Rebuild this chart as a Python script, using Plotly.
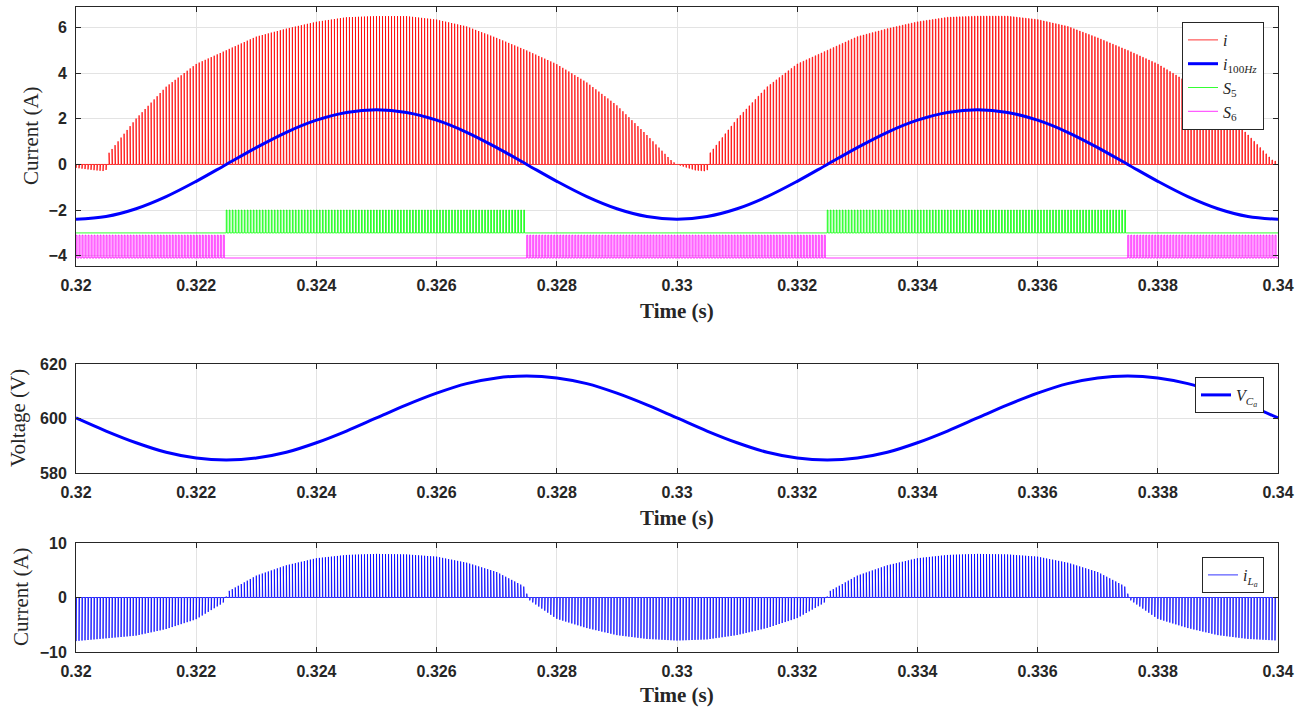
import numpy as np
import plotly.graph_objects as go

W, H = 1309, 709

# ---------------- data ----------------
x_ticks = [0.32, 0.322, 0.324, 0.326, 0.328, 0.33, 0.332, 0.334, 0.336, 0.338, 0.34]
x_ticklabels = ["0.32", "0.322", "0.324", "0.326", "0.328", "0.33", "0.332", "0.334", "0.336", "0.338", "0.34"]

# switching period of the PWM traces (about 20 kHz)
t_sw = 5e-5

# envelope of the switched current i (A)
i_env_t = [0.3200, 0.3203, 0.3205, 0.32055, 0.3210, 0.3215, 0.3220, 0.3225, 0.3230, 0.3235, 0.3240,
           0.3245, 0.3250, 0.3255, 0.3260, 0.3265, 0.3270, 0.3275, 0.3280, 0.3285, 0.3290, 0.3295,
           0.3299, 0.3300, 0.3303, 0.3305, 0.33055, 0.3310, 0.3315, 0.3320, 0.3325, 0.3330, 0.3335,
           0.3340, 0.3345, 0.3350, 0.3355, 0.3360, 0.3365, 0.3370, 0.3375, 0.3380, 0.3385, 0.3390,
           0.3395, 0.3399, 0.3400]
i_env_v = [-0.15, -0.25, -0.3, 0.5, 2.0, 3.4, 4.4, 5.0, 5.6, 5.95, 6.25,
           6.45, 6.5, 6.5, 6.35, 6.05, 5.55, 5.0, 4.4, 3.6, 2.6, 1.3,
           0.2, 0.0, -0.25, -0.3, 0.5, 2.0, 3.4, 4.4, 5.0, 5.6, 5.95,
           6.25, 6.45, 6.5, 6.5, 6.35, 6.05, 5.55, 5.0, 4.4, 3.6, 2.6,
           1.3, 0.2, 0.1]

# 100 Hz component of the current (A)
t_smooth = [0.3200, 0.3205, 0.3210, 0.3215, 0.3220, 0.3225, 0.3230, 0.3235, 0.3240, 0.3245, 0.3250,
            0.3255, 0.3260, 0.3265, 0.3270, 0.3275, 0.3280, 0.3285, 0.3290, 0.3295, 0.3300,
            0.3305, 0.3310, 0.3315, 0.3320, 0.3325, 0.3330, 0.3335, 0.3340, 0.3345, 0.3350,
            0.3355, 0.3360, 0.3365, 0.3370, 0.3375, 0.3380, 0.3385, 0.3390, 0.3395, 0.3400]
i100 = [-2.40, -2.28, -1.94, -1.41, -0.74, 0.00, 0.74, 1.41, 1.94, 2.28, 2.40,
        2.28, 1.94, 1.41, 0.74, 0.00, -0.74, -1.41, -1.94, -2.28, -2.40,
        -2.28, -1.94, -1.41, -0.74, 0.00, 0.74, 1.41, 1.94, 2.28, 2.40,
        2.28, 1.94, 1.41, 0.74, 0.00, -0.74, -1.41, -1.94, -2.28, -2.40]

# capacitor voltage (V)
v_ca = [600.2, 595.4, 591.1, 587.6, 585.5, 584.8, 585.5, 587.6, 591.1, 595.4, 600.2,
        605.0, 609.3, 612.8, 614.9, 615.6, 614.9, 612.8, 609.3, 605.0, 600.2,
        595.4, 591.1, 587.6, 585.5, 584.8, 585.5, 587.6, 591.1, 595.4, 600.2,
        605.0, 609.3, 612.8, 614.9, 615.6, 614.9, 612.8, 609.3, 605.0, 600.2]

# gate signals: levels and conduction intervals
s5_low, s5_high = -3.0, -2.0
s6_low, s6_high = -4.1, -3.1
s5_on = [(0.3225, 0.3275), (0.3325, 0.3375)]
s6_on = [(0.3200, 0.3225), (0.3275, 0.3325), (0.3375, 0.3400)]

# envelope of the inductor current i_La (A)
il_env_t = [0.3200, 0.3205, 0.3210, 0.3215, 0.3220, 0.32245, 0.32255, 0.3230, 0.3235, 0.3240, 0.3245,
            0.3250, 0.3255, 0.3260, 0.3265, 0.3270, 0.32745, 0.32755, 0.3280, 0.3285, 0.3290,
            0.3295, 0.3300, 0.3305, 0.3310, 0.3315, 0.3320, 0.33245, 0.33255, 0.3330, 0.3335,
            0.3340, 0.3345, 0.3350, 0.3355, 0.3360, 0.3365, 0.3370, 0.33745, 0.33755, 0.3380,
            0.3385, 0.3390, 0.3395, 0.3400]
il_env_v = [-8.0, -7.5, -7.0, -5.8, -4.0, -1.0, 1.2, 4.0, 5.9, 7.2, 7.8,
            8.0, 7.9, 7.5, 6.4, 4.7, 2.1, -0.5, -3.9, -5.6, -6.9,
            -7.6, -7.9, -7.7, -6.9, -5.6, -3.8, -1.0, 1.2, 4.0, 5.9,
            7.2, 7.8, 8.0, 7.9, 7.5, 6.4, 4.7, 2.1, -0.5, -3.9,
            -5.6, -6.9, -7.6, -7.9]

# ---------------- helpers ----------------
def pulse_train(heights_fn, base, duty, t0=0.32, t1=0.34):
    starts = np.arange(t0, t1 - 1e-9, t_sw)
    mids = starts + duty * t_sw / 2
    h = heights_fn(mids)
    n = len(starts)
    x = np.empty(4 * n)
    y = np.empty(4 * n)
    x[0::4] = starts
    x[1::4] = starts
    x[2::4] = starts + duty * t_sw
    x[3::4] = starts + duty * t_sw
    y[0::4] = base
    y[1::4] = h
    y[2::4] = h
    y[3::4] = base
    x = np.append(x, t1)
    y = np.append(y, base)
    return x, y


def gate_heights(intervals, low, high):
    def f(t):
        out = np.full_like(t, low)
        for a, b in intervals:
            out[(t >= a) & (t < b)] = high
        return out
    return f


ix, iy = pulse_train(lambda t: np.interp(t, i_env_t, i_env_v), 0.0, 0.15)
s5x, s5y = pulse_train(gate_heights(s5_on, s5_low, s5_high), s5_low, 0.25)
s6x, s6y = pulse_train(gate_heights(s6_on, s6_low, s6_high), s6_low, 0.35)
lx, ly = pulse_train(lambda t: np.interp(t, il_env_t, il_env_v), 0.0, 0.15)

# ---------------- figure ----------------
fig = go.Figure()

fig.add_trace(go.Scatter(x=ix, y=iy, mode="lines", line=dict(color="#ff0000", width=0.8),
                         name="<i>i</i>", legend="legend", xaxis="x", yaxis="y"))
fig.add_trace(go.Scatter(x=t_smooth, y=i100, mode="lines", line=dict(color="#0000ff", width=3, shape="spline"),
                         name="<i>i</i><sub>100<i>Hz</i></sub>", legend="legend", xaxis="x", yaxis="y"))
fig.add_trace(go.Scatter(x=s5x, y=s5y, mode="lines", line=dict(color="#00ff00", width=0.8),
                         name="<i>S</i><sub>5</sub>", legend="legend", xaxis="x", yaxis="y"))
fig.add_trace(go.Scatter(x=s6x, y=s6y, mode="lines", line=dict(color="#ff00ff", width=0.8),
                         name="<i>S</i><sub>6</sub>", legend="legend", xaxis="x", yaxis="y"))

fig.add_trace(go.Scatter(x=t_smooth, y=v_ca, mode="lines", line=dict(color="#0000ff", width=3, shape="spline"),
                         name="<i>V</i><sub><i>C<sub>a</sub></i></sub>", legend="legend2", xaxis="x2", yaxis="y2"))

fig.add_trace(go.Scatter(x=lx, y=ly, mode="lines", line=dict(color="#0000ff", width=0.8),
                         name="<i>i</i><sub><i>L<sub>a</sub></i></sub>", legend="legend3", xaxis="x3", yaxis="y3"))

# plot area in pixels: x 76..1278, y 7..652
L, R, T, B = 76, 1278, 7, 652
PW, PH = R - L, B - T

def px(x):
    return (x - L) / PW

def py(y):
    return (B - y) / PH

def ydom(top_px, bot_px):
    return [py(bot_px), py(top_px)]

tick_font = dict(family="Liberation Sans, Arial", size=16, color="#262626", weight="bold")
axis_common = dict(showline=True, linecolor="#262626", linewidth=1, mirror="ticks",
                   ticks="inside", ticklen=5, tickcolor="#262626", showgrid=True,
                   gridcolor="#e3e3e3", gridwidth=1, zeroline=False, tickfont=tick_font,
                   automargin=False)

xax = dict(axis_common, range=[0.32, 0.34], tickvals=x_ticks, ticktext=x_ticklabels,
           domain=[0, 1], ticklabelstandoff=5)

fig.update_layout(
    width=W, height=H,
    margin=dict(l=L, r=W - R, t=T, b=H - B, autoexpand=False),
    paper_bgcolor="white", plot_bgcolor="white",
    xaxis=dict(xax, anchor="y"),
    yaxis=dict(axis_common, range=[-4.45, 6.9], tickvals=[-4, -2, 0, 2, 4, 6],
               domain=ydom(7, 266), anchor="x", ticklabelstandoff=5),
    xaxis2=dict(xax, anchor="y2"),
    yaxis2=dict(axis_common, range=[580, 620], tickvals=[580, 600, 620],
                domain=ydom(364, 473), anchor="x2", ticklabelstandoff=5),
    xaxis3=dict(xax, anchor="y3"),
    yaxis3=dict(axis_common, range=[-10, 10], tickvals=[-10, 0, 10],
                domain=ydom(543, 652), anchor="x3", ticklabelstandoff=5),
    showlegend=True,
)

leg_common = dict(bgcolor="white", bordercolor="#262626", borderwidth=1,
                  font=dict(family="Liberation Serif, Times New Roman", size=16, color="#262626"),
                  xanchor="right", yanchor="top", itemwidth=30, tracegroupgap=0)
fig.update_layout(
    legend=dict(leg_common, x=px(1264), y=py(22)),
    legend2=dict(leg_common, x=px(1264), y=py(377)),
    legend3=dict(leg_common, x=px(1264), y=py(557)),
)

title_font_x = dict(family="Liberation Serif, Times New Roman", size=21, color="#262626", weight="bold")
title_font_y = dict(family="Liberation Serif, Times New Roman", size=21, color="#262626")
ann = []
for yc in [311, 518, 695]:
    ann.append(dict(text="Time (s)", x=px(677), y=py(yc), xref="paper", yref="paper",
                    showarrow=False, xanchor="center", yanchor="middle", font=title_font_x))
for txt, xc, yc in [("Current (A)", 31, 136), ("Voltage (V)", 18, 418), ("Current (A)", 21, 597)]:
    ann.append(dict(text=txt, x=px(xc), y=py(yc), xref="paper", yref="paper", textangle=-90,
                    showarrow=False, xanchor="center", yanchor="middle", font=title_font_y))
fig.update_layout(annotations=ann)

fig.write_html("out.html")
